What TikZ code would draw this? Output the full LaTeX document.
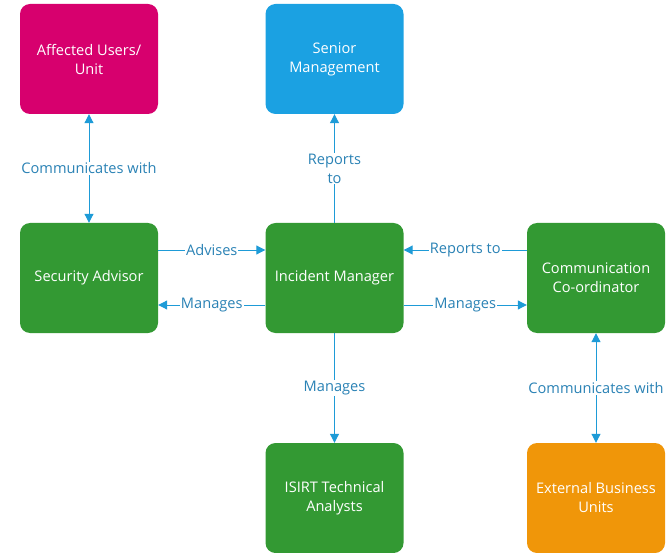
\documentclass[tikz,border=0pt]{standalone}
\usepackage{fontspec}
\setmainfont{Open Sans}
\usetikzlibrary{arrows.meta}
\definecolor{cmag}{HTML}{D7006E}
\definecolor{cblue}{HTML}{1BA1E2}
\definecolor{cgreen}{HTML}{339933}
\definecolor{corange}{HTML}{F09609}
\definecolor{cline}{HTML}{1E9BD7}
\definecolor{clabel}{HTML}{2A82B5}
\tikzset{
  box/.style={rounded corners=10pt, minimum width=138pt, minimum height=110pt,
    text=white, align=center, font=\fontsize{14.6}{19}\selectfont, inner sep=0pt},
  arr/.style={draw=cline, line width=1pt, -{Triangle[length=9pt,width=9pt]}},
  darr/.style={draw=cline, line width=1pt, {Triangle[length=9pt,width=9pt]}-{Triangle[length=9pt,width=9pt]}},
  lbl/.style={fill=white, text=clabel, inner sep=1pt, align=center, font=\fontsize{14.6}{19}\selectfont}
}
\begin{document}
\begin{tikzpicture}[x=1pt,y=-1pt]
\useasboundingbox (0,0) rectangle (671,553);
\node[box, fill=cmag] (aff) at (89,59) {Affected Users/\\Unit};
\node[box, fill=cblue] (sen) at (334.5,59) {Senior\\Management};
\node[box, fill=cgreen] (sec) at (89,278) {Security Advisor};
\node[box, fill=cgreen] (inc) at (334.5,278) {Incident Manager};
\node[box, fill=cgreen] (com) at (596,278) {Communication\\Co-ordinator};
\node[box, fill=cgreen] (isi) at (334.5,498) {ISIRT Technical\\Analysts};
\node[box, fill=corange] (ext) at (596,498) {External Business\\Units};

\draw[darr] (aff) -- node[lbl] {Communicates with} (sec);
\draw[arr] (inc) -- node[lbl] {Reports\\to} (sen);
\draw[arr] ([yshift=28pt]sec.east) -- node[lbl] {Advises} ([yshift=28pt]inc.west);
\draw[arr] ([yshift=-27pt]inc.west) -- node[lbl] {Manages} ([yshift=-27pt]sec.east);
\draw[arr] ([yshift=28pt]com.west) -- node[lbl] {Reports to} ([yshift=28pt]inc.east);
\draw[arr] ([yshift=-27pt]inc.east) -- node[lbl] {Manages} ([yshift=-27pt]com.west);
\draw[arr] (inc) -- node[lbl] {Manages} (isi);
\draw[darr] (com) -- node[lbl] {Communicates with} (ext);
\end{tikzpicture}
\end{document}
